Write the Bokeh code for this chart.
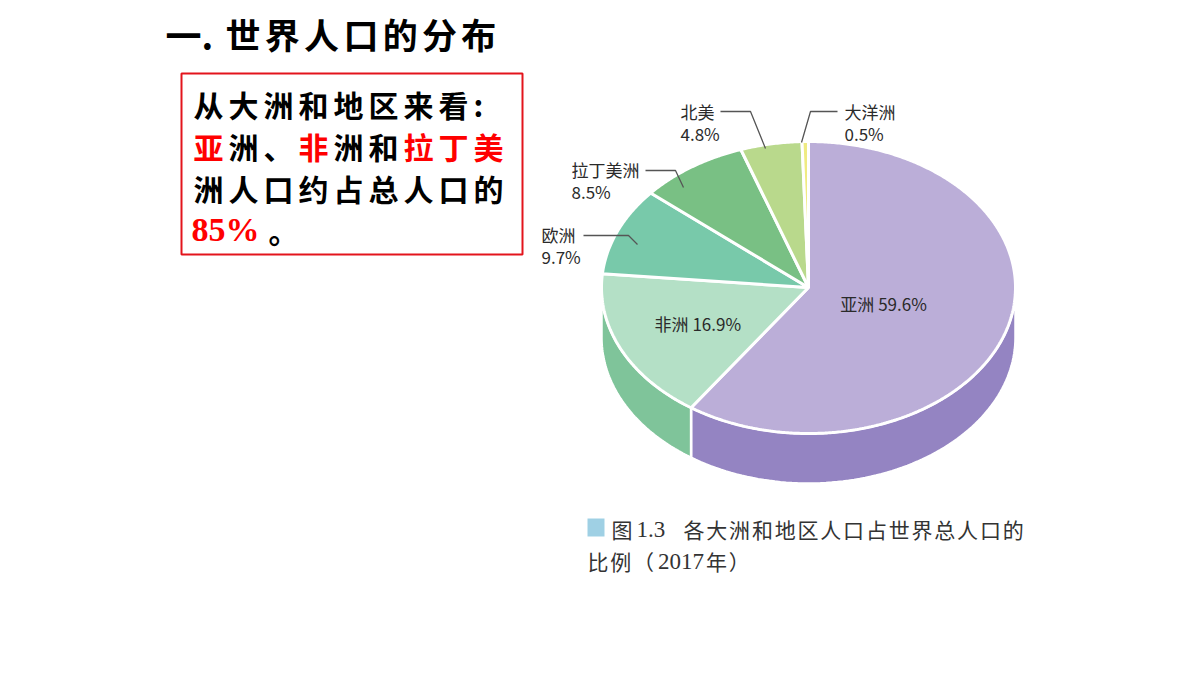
import numpy as np
from bokeh.plotting import figure
from bokeh.models import Range1d
from bokeh.embed import file_html
from bokeh.resources import INLINE
from bokeh.core.properties import value

# ---------------- data ----------------
regions = ["亚洲", "非洲", "欧洲", "拉丁美洲", "北美", "大洋洲"]
shares = [59.6, 16.9, 9.7, 8.5, 4.8, 0.5]
share_labels = ["59.6%", "16.9%", "9.7%", "8.5%", "4.8%", "0.5%"]
top_colors = ["#bbaed8", "#b4e0c6", "#78c9aa", "#79c084", "#b9d98c", "#efeb82"]
side_colors = ["#9484c2", "#7fc49a", "#5fb690", "#62ad70", "#9cc46c", "#d8d460"]

title_head = "一."
title_body = "世界人口的分布"
box_lines = [
    [("从大洲和地区来看:", "black")],
    [("亚", "red"), ("洲、", "black"), ("非", "red"), ("洲和", "black"), ("拉丁美", "red")],
    [("洲人口约占总人口的", "black")],
]
caption_fig = "图"
caption_num = "1.3"
caption_body = "各大洲和地区人口占世界总人口的"
caption_line2 = [("比", "cjk"), ("例", "cjk"), ("（", "cjk"), ("2017", "num"), ("年", "cjk"), ("）", "cjk")]

# ---------------- figure ----------------
p = figure(width=1200, height=675, x_range=Range1d(0, 1200), y_range=Range1d(675, 0),
           output_backend="svg", toolbar_location=None, min_border=0)
p.xaxis.visible = False
p.yaxis.visible = False
p.xgrid.grid_line_color = None
p.ygrid.grid_line_color = None
p.outline_line_color = None
p.background_fill_color = "white"
p.border_fill_color = "white"

CJK = value("Noto Sans CJK SC")
SERIF = value("Liberation Serif")

# title
p.text(x=[165], y=[33], text=[title_head], text_font=CJK, text_font_size="36px",
       text_font_style="bold", text_color="black", text_baseline="middle", text_align="left")
p.text(x=[225 + k * 39.3 for k in range(len(title_body))], y=[33] * len(title_body),
       text=list(title_body), text_font=CJK, text_font_size="35px",
       text_font_style="bold", text_color="black", text_baseline="middle", text_align="left")

# red box
p.quad(left=[181], right=[522], top=[73], bottom=[254], fill_color=None,
       line_color="#e3141c", line_width=2)

pitch = 35.0
row_y = [103, 145, 187]
for r, segs in enumerate(box_lines):
    xs, ys, ts, cs = [], [], [], []
    k = 0
    for s, c in segs:
        for ch in s:
            xs.append(193 + k * pitch)
            ys.append(row_y[r])
            ts.append(ch)
            cs.append(c)
            k += 1
    p.text(x=xs, y=ys, text=ts, text_color=cs, text_font=CJK, text_font_size="30px",
           text_font_style="bold", text_baseline="middle", text_align="left")

p.text(x=[191], y=[229], text=["85%"], text_font=SERIF,
       text_font_size="34px", text_font_style="bold", text_color="red",
       text_baseline="middle", text_align="left")
p.text(x=[268], y=[229], text=["。"], text_font=CJK, text_font_size="30px",
       text_font_style="bold", text_color="black", text_baseline="middle", text_align="left")

# ---------------- 3D pie ----------------
CX, CY, RX, RY, DEPTH = 808, 287, 207, 146, 50
edges = np.cumsum([0.0] + shares) / 100.0 * 360.0


def ex(t):
    return CX + RX * np.sin(np.radians(t))


def ey(t):
    return CY - RY * np.cos(np.radians(t))


# sides (front half: 90..270 degrees clockwise from top)
for i in range(len(shares)):
    a0, a1 = edges[i], edges[i + 1]
    s, e = max(a0, 90.0), min(a1, 270.0)
    if e <= s:
        continue
    t = np.linspace(s, e, 80)
    xs = list(ex(t)) + list(ex(t[::-1]))
    ys = list(ey(t)) + list(ey(t[::-1]) + DEPTH)
    p.patch(xs, ys, fill_color=side_colors[i], line_color="white", line_width=2.5)

# tops
for i in range(len(shares)):
    a0, a1 = edges[i], edges[i + 1]
    t = np.linspace(a0, a1, max(3, int((a1 - a0) * 2)))
    xs = [CX] + list(ex(t)) + [CX]
    ys = [CY] + list(ey(t)) + [CY]
    p.patch(xs, ys, fill_color=top_colors[i], line_color="white", line_width=3)

# inside labels (Asia, Africa)
inner_frac = {0: 0.38, 1: 0.59}
for i, f in inner_frac.items():
    mid = (edges[i] + edges[i + 1]) / 2
    lx = CX + RX * f * np.sin(np.radians(mid))
    ly = CY - RY * f * np.cos(np.radians(mid))
    p.text(x=[lx], y=[ly], text=[regions[i] + " " + share_labels[i]], text_font=CJK,
           text_font_size="17px", text_color="#2a2a2a", text_baseline="middle",
           text_align="center")

# outside labels with leader lines (layout positions)
outside = {
    2: dict(tx=541, ty=234, line=([583, 628, 637], [235, 235, 244])),
    3: dict(tx=571, ty=169, line=([645, 675, 683], [170, 170, 187])),
    4: dict(tx=680, ty=111, line=([720, 750, 765], [111, 111, 148])),
    5: dict(tx=844, ty=111, line=([837, 810, 801], [111, 111, 142])),
}
for i, o in outside.items():
    p.line(o["line"][0], o["line"][1], line_color="#555555", line_width=1.3)
    p.text(x=[o["tx"]], y=[o["ty"]], text=[regions[i]], text_font=CJK, text_font_size="17px",
           text_color="#2a2a2a", text_baseline="middle", text_align="left")
    p.text(x=[o["tx"]], y=[o["ty"] + 22], text=[share_labels[i]], text_font=CJK,
           text_font_size="17px", text_color="#2a2a2a", text_baseline="middle", text_align="left")

# caption
cpitch = 22.8
p.quad(left=[587], right=[604], top=[518], bottom=[536], fill_color="#9fd0e4", line_color=None)
p.text(x=[611], y=[528], text=[caption_fig], text_font=CJK, text_font_size="21px",
       text_color="#333333", text_baseline="middle", text_align="left")
p.text(x=[636], y=[529], text=[caption_num], text_font=SERIF, text_font_size="23px",
       text_color="#333333", text_baseline="middle", text_align="left")
p.text(x=[683 + k * cpitch for k in range(len(caption_body))], y=[528] * len(caption_body),
       text=list(caption_body), text_font=CJK, text_font_size="21px",
       text_color="#333333", text_baseline="middle", text_align="left")

x2 = 587
for s, kind in caption_line2:
    if kind == "num":
        p.text(x=[x2 + 2], y=[561], text=[s], text_font=SERIF, text_font_size="23px",
               text_color="#333333", text_baseline="middle", text_align="left")
        x2 += 50
    else:
        p.text(x=[x2], y=[560], text=[s], text_font=CJK, text_font_size="21px",
               text_color="#333333", text_baseline="middle", text_align="left")
        x2 += cpitch

open("out.html", "w").write(file_html(p, INLINE))
